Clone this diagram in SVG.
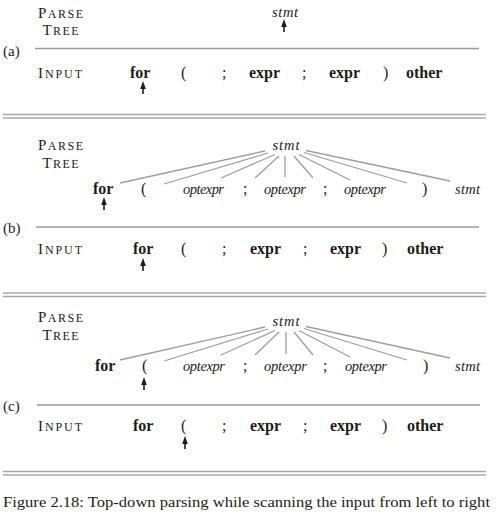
<svg xmlns="http://www.w3.org/2000/svg" xmlns:xlink="http://www.w3.org/1999/xlink" width="496" height="517" viewBox="0 0 496 517">
<style>
text{font-family:"Liberation Serif","Times New Roman",serif;fill:#1c1c1c}
.sc{font-size:15px}
.sm{font-size:12px}
.b{font-size:16px;font-weight:bold}
.r{font-size:16px}
.i{font-size:14.5px;font-style:italic}
.lab{font-size:15px}
.rule{stroke:#9a9a9a;stroke-width:1.4;fill:none}
.dbl{stroke:#a8a8a8;stroke-width:1.6;fill:none}
.tree{stroke:#9e9e9e;stroke-width:1.3;fill:none}
</style>
<defs>
<g id="up">
<path d="M0,0 L-2.8,8 L2.8,8 Z" fill="#1c1c1c"/>
<line x1="0" y1="6" x2="0" y2="13" stroke="#1c1c1c" stroke-width="1.6"/>
</g>
</defs>

<!-- Panel (a) -->
<g id="panel-a">
  <g id="a-labels">
    <text class="sc" x="60.5" y="18" text-anchor="middle" textLength="45" lengthAdjust="spacing">P<tspan class="sm">ARSE</tspan></text>
    <text class="sc" x="60.5" y="35" text-anchor="middle" textLength="36" lengthAdjust="spacing">T<tspan class="sm">REE</tspan></text>
    <text class="lab" x="3" y="56">(a)</text>
    <text class="sc" x="38" y="78" textLength="44" lengthAdjust="spacing">I<tspan class="sm">NPUT</tspan></text>
  </g>
  <g id="a-stmt"><text class="i" x="285" y="17" text-anchor="middle" textLength="26">stmt</text></g>
  <use xlink:href="#up" x="284" y="19"/>
  <line class="rule" x1="35" y1="48.5" x2="479" y2="48.5"/>
  <g id="a-input">
    <text class="b" x="130" y="78">for</text>
    <text class="r" x="181" y="78">(</text>
    <text class="r" x="222" y="78">;</text>
    <text class="b" x="249" y="78">expr</text>
    <text class="r" x="302" y="78">;</text>
    <text class="b" x="329" y="78">expr</text>
    <text class="r" x="383" y="78">)</text>
    <text class="b" x="406" y="78">other</text>
  </g>
  <use xlink:href="#up" x="143" y="81"/>
  <line class="dbl" x1="3" y1="114.5" x2="486" y2="114.5"/>
  <line class="dbl" x1="3" y1="118" x2="486" y2="118"/>
</g>

<!-- Panel (b) -->
<g id="panel-b">
  <g id="b-labels">
    <text class="sc" x="60.5" y="150" text-anchor="middle" textLength="45" lengthAdjust="spacing">P<tspan class="sm">ARSE</tspan></text>
    <text class="sc" x="60.5" y="168" text-anchor="middle" textLength="36" lengthAdjust="spacing">T<tspan class="sm">REE</tspan></text>
    <text class="lab" x="3" y="233">(b)</text>
    <text class="sc" x="38" y="254" textLength="44" lengthAdjust="spacing">I<tspan class="sm">NPUT</tspan></text>
  </g>
  <g id="b-root"><text class="i" x="286" y="150" text-anchor="middle" textLength="27">stmt</text></g>
  <g id="b-children">
    <text class="b" x="93" y="194">for</text>
    <text class="r" x="141" y="194">(</text>
    <text class="i" x="183" y="194" textLength="41">optexpr</text>
    <text class="r" x="243" y="194">;</text>
    <text class="i" x="264" y="194" textLength="42">optexpr</text>
    <text class="r" x="323" y="194">;</text>
    <text class="i" x="344" y="194" textLength="42">optexpr</text>
    <text class="r" x="422" y="194">)</text>
    <text class="i" x="455" y="194" textLength="25">stmt</text>
  </g>
  <g id="b-edges">
    <line class="tree" x1="120" y1="183" x2="265" y2="151"/>
    <line class="tree" x1="164" y1="184" x2="268" y2="153"/>
    <line class="tree" x1="221" y1="178" x2="275" y2="154.5"/>
    <line class="tree" x1="255" y1="178" x2="279" y2="156"/>
    <line class="tree" x1="285" y1="177" x2="285" y2="156"/>
    <line class="tree" x1="313" y1="178" x2="294" y2="156"/>
    <line class="tree" x1="350" y1="180" x2="299" y2="154.5"/>
    <line class="tree" x1="407" y1="183" x2="304" y2="152.5"/>
    <line class="tree" x1="450" y1="181" x2="306" y2="150.5"/>
  </g>
  <use xlink:href="#up" x="104" y="197"/>
  <line class="rule" x1="36" y1="227" x2="479" y2="227"/>
  <g id="b-input">
    <text class="b" x="133" y="254">for</text>
    <text class="r" x="181" y="254">(</text>
    <text class="r" x="222" y="254">;</text>
    <text class="b" x="250" y="254">expr</text>
    <text class="r" x="303" y="254">;</text>
    <text class="b" x="330" y="254">expr</text>
    <text class="r" x="382" y="254">)</text>
    <text class="b" x="407" y="254">other</text>
  </g>
  <use xlink:href="#up" x="143" y="258"/>
  <line class="dbl" x1="3" y1="293" x2="486" y2="293"/>
  <line class="dbl" x1="3" y1="296.5" x2="486" y2="296.5"/>
</g>

<!-- Panel (c) -->
<g id="panel-c">
  <g id="c-labels">
    <text class="sc" x="60.5" y="322" text-anchor="middle" textLength="45" lengthAdjust="spacing">P<tspan class="sm">ARSE</tspan></text>
    <text class="sc" x="60.5" y="340" text-anchor="middle" textLength="36" lengthAdjust="spacing">T<tspan class="sm">REE</tspan></text>
    <text class="lab" x="3" y="411">(c)</text>
    <text class="sc" x="38" y="431" textLength="44" lengthAdjust="spacing">I<tspan class="sm">NPUT</tspan></text>
  </g>
  <g id="c-root"><text class="i" x="286" y="326" text-anchor="middle" textLength="27">stmt</text></g>
  <g id="c-children">
    <text class="b" x="95" y="371">for</text>
    <text class="r" x="142" y="371">(</text>
    <text class="i" x="183" y="371" textLength="42">optexpr</text>
    <text class="r" x="243" y="371">;</text>
    <text class="i" x="264" y="371" textLength="43">optexpr</text>
    <text class="r" x="323" y="371">;</text>
    <text class="i" x="345" y="371" textLength="42">optexpr</text>
    <text class="r" x="423" y="371">)</text>
    <text class="i" x="455" y="371" textLength="25">stmt</text>
  </g>
  <g id="c-edges">
    <line class="tree" x1="120" y1="360" x2="265" y2="327"/>
    <line class="tree" x1="164" y1="361" x2="268" y2="329"/>
    <line class="tree" x1="221" y1="355" x2="275" y2="330.5"/>
    <line class="tree" x1="255" y1="355" x2="279" y2="332"/>
    <line class="tree" x1="286" y1="354" x2="286" y2="332"/>
    <line class="tree" x1="313" y1="355" x2="294" y2="332"/>
    <line class="tree" x1="350" y1="357" x2="299" y2="330.5"/>
    <line class="tree" x1="407" y1="360" x2="304" y2="328.5"/>
    <line class="tree" x1="450" y1="358" x2="306" y2="326.5"/>
  </g>
  <use xlink:href="#up" x="144" y="377"/>
  <line class="rule" x1="37" y1="405" x2="480" y2="405"/>
  <g id="c-input">
    <text class="b" x="133" y="431">for</text>
    <text class="r" x="181" y="431">(</text>
    <text class="r" x="222" y="431">;</text>
    <text class="b" x="250" y="431">expr</text>
    <text class="r" x="303" y="431">;</text>
    <text class="b" x="330" y="431">expr</text>
    <text class="r" x="382" y="431">)</text>
    <text class="b" x="407" y="431">other</text>
  </g>
  <use xlink:href="#up" x="185" y="436"/>
  <line class="dbl" x1="3" y1="471.5" x2="486" y2="471.5"/>
  <line class="dbl" x1="3" y1="475" x2="486" y2="475"/>
</g>

<text id="caption" x="3" y="507" font-size="14.5" textLength="487" lengthAdjust="spacingAndGlyphs">Figure 2.18: Top-down parsing while scanning the input from left to right</text>
</svg>
